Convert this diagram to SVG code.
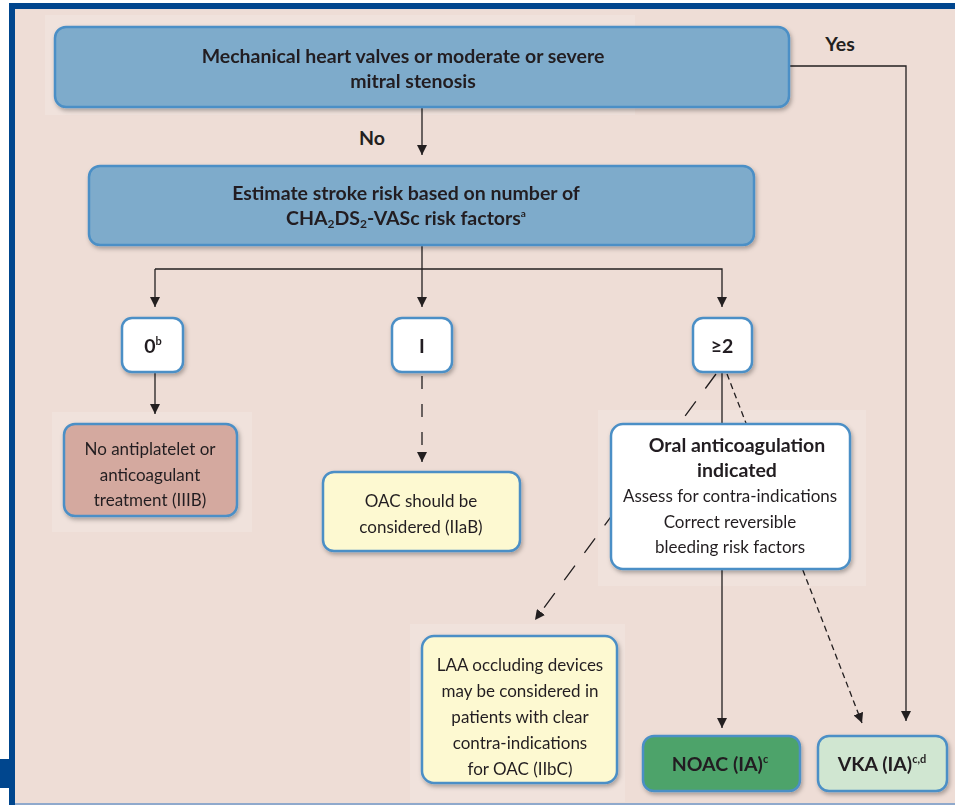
<svg xmlns="http://www.w3.org/2000/svg" width="955" height="805" viewBox="0 0 955 805">
<defs>
<style>
text{font-family:Lato,"Liberation Sans",sans-serif;fill:#231f20;text-anchor:middle}
.b{font-weight:bold;font-size:19.5px}
.n{font-size:17px}
.box{stroke:#4b8fc6;stroke-width:2.5}
.blue{fill:#7eabcb}
.white{fill:#ffffff}
.ln{stroke:#231f20;stroke-width:1.3;fill:none}
.patch{fill:#f0e2dc}
</style>
<marker id="ah" viewBox="0 0 10 10" refX="10" refY="5" markerWidth="10" markerHeight="10" markerUnits="userSpaceOnUse" orient="auto">
<path d="M0,0 L10,5 L0,10 z" fill="#231f20"/>
</marker>
<filter id="sh" x="-10%" y="-10%" width="125%" height="130%">
<feDropShadow dx="1.5" dy="2.5" stdDeviation="2" flood-color="#000" flood-opacity="0.3"/>
</filter>
</defs>

<!-- frame -->
<rect x="0" y="0" width="955" height="805" fill="#ffffff"/>
<rect x="15" y="9" width="940" height="794" fill="#eeddd6"/>
<rect x="9" y="3" width="946" height="6" fill="#00468e"/>
<rect x="9" y="3" width="6" height="802" fill="#00468e"/>
<rect x="0" y="759" width="9" height="29" fill="#00468e"/>
<rect x="15" y="803" width="940" height="2" fill="#8fa9cc"/>

<!-- subtle patches -->
<rect class="patch" x="45" y="15" width="590" height="100"/>
<rect class="patch" x="52" y="412" width="200" height="120"/>
<rect class="patch" x="598" y="410" width="268" height="176"/>
<rect class="patch" x="410" y="624" width="215" height="178"/>

<!-- connectors -->
<g id="connectors">
<polyline class="ln" points="789,66 906,66 906,721" marker-end="url(#ah)"/>
<line class="ln" x1="422" y1="108" x2="422" y2="155" marker-end="url(#ah)"/>
<line class="ln" x1="422" y1="245" x2="422" y2="307" marker-end="url(#ah)"/>
<polyline class="ln" points="155,269 722,269 722,307" marker-end="url(#ah)"/>
<line class="ln" x1="155" y1="269" x2="155" y2="307" marker-end="url(#ah)"/>
<line class="ln" x1="155" y1="372" x2="155" y2="414" marker-end="url(#ah)"/>
<line class="ln" x1="422" y1="376" x2="422" y2="462" stroke-dasharray="13 15" marker-end="url(#ah)"/>
<line class="ln" x1="722" y1="372" x2="722" y2="728" marker-end="url(#ah)"/>
<line class="ln" x1="716" y1="374" x2="535" y2="620" stroke-dasharray="18 16" marker-end="url(#ah)"/>
<line class="ln" x1="727" y1="374" x2="862" y2="723" stroke-dasharray="6 4" marker-end="url(#ah)"/>
</g>

<text class="b" x="840" y="51">Yes</text>
<text class="b" x="372" y="145">No</text>

<g id="mech" filter="url(#sh)">
<rect class="box blue" x="55" y="27" width="734" height="80" rx="11"/>
<text class="b" x="403" y="63">Mechanical heart valves or moderate or severe</text>
<text class="b" x="413" y="88">mitral stenosis</text>
</g>

<g id="estimate" filter="url(#sh)">
<rect class="box blue" x="89" y="166" width="665" height="79" rx="11"/>
<text class="b" x="406" y="200">Estimate stroke risk based on number of</text>
<text class="b" x="406" y="225">CHA<tspan font-size="12" dy="3">2</tspan><tspan dy="-3">DS</tspan><tspan font-size="12" dy="3">2</tspan><tspan dy="-3">-VASc risk factors</tspan><tspan font-size="10" dy="-8">a</tspan></text>
</g>

<g id="zero" filter="url(#sh)">
<rect class="box white" x="122" y="318" width="61" height="54" rx="10"/>
<text class="b" x="153" y="353">0<tspan font-size="11" dy="-8">b</tspan></text>
</g>

<g id="one" filter="url(#sh)">
<rect class="box white" x="392" y="318" width="60" height="54" rx="10"/>
<text class="b" x="422" y="353">I</text>
</g>

<g id="two" filter="url(#sh)">
<rect class="box white" x="693" y="318" width="59" height="54" rx="10"/>
<text class="b" x="722" y="353">≥2</text>
</g>

<g id="noanti" filter="url(#sh)">
<rect class="box" fill="#d4a99f" x="64" y="424" width="173" height="92" rx="11"/>
<text class="n" x="150" y="455">No antiplatelet or</text>
<text class="n" x="150" y="481">anticoagulant</text>
<text class="n" x="150" y="506">treatment (IIIB)</text>
</g>

<g id="oac" filter="url(#sh)">
<rect class="box" fill="#fdf9d1" x="323" y="472" width="197" height="79" rx="11"/>
<text class="n" x="421" y="507">OAC should be</text>
<text class="n" x="421" y="533">considered (IIaB)</text>
</g>

<g id="oral" filter="url(#sh)">
<rect class="box white" x="611" y="424" width="239" height="145" rx="12"/>
<text class="b" x="737" y="452">Oral anticoagulation</text>
<text class="b" x="737" y="477">indicated</text>
<text class="n" x="730" y="502">Assess for contra-indications</text>
<text class="n" x="730" y="528">Correct reversible</text>
<text class="n" x="730" y="553">bleeding risk factors</text>
</g>

<g id="laa" filter="url(#sh)">
<rect class="box" fill="#fdf9d1" x="422" y="636" width="195" height="147" rx="12"/>
<text class="n" x="520" y="671">LAA occluding devices</text>
<text class="n" x="520" y="697">may be considered in</text>
<text class="n" x="520" y="723">patients with clear</text>
<text class="n" x="520" y="749">contra-indications</text>
<text class="n" x="520" y="775">for OAC (IIbC)</text>
</g>

<g id="noac" filter="url(#sh)">
<rect class="box" fill="#4ea36b" x="643" y="736" width="157" height="55" rx="11"/>
<text class="b" x="720" y="771">NOAC (IA)<tspan font-size="11" dy="-8">c</tspan></text>
</g>

<g id="vka" filter="url(#sh)">
<rect class="box" fill="#d0e6d1" x="818" y="736" width="129" height="55" rx="11"/>
<text class="b" x="882" y="771">VKA (IA)<tspan font-size="11" dy="-8">c,d</tspan></text>
</g>
</svg>
